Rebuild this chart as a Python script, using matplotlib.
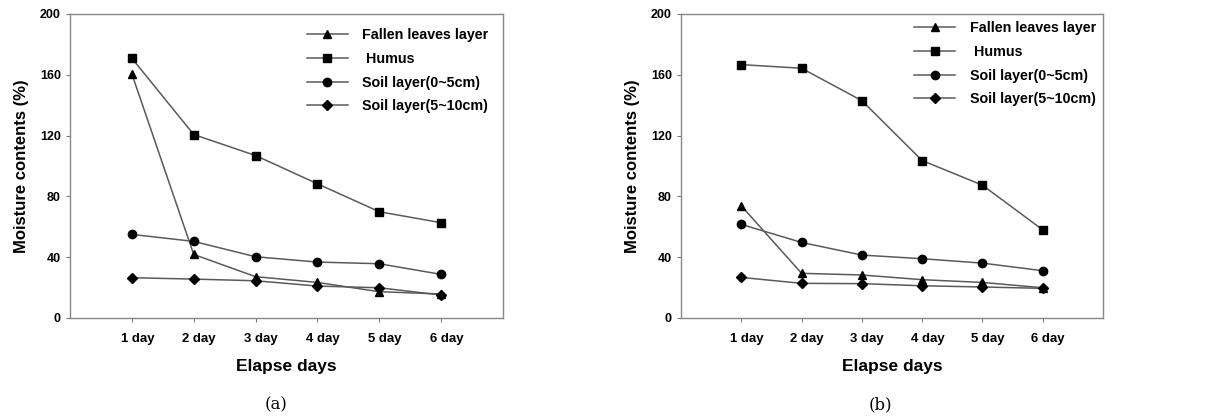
import matplotlib.pyplot as plt
import numpy as np

days = ['1 day', '2 day', '3 day', '4 day', '5 day', '6 day']
series_names = ['Fallen leaves layer', ' Humus', 'Soil layer(0~5cm)', 'Soil layer(5~10cm)']
markers = ['^', 's', 'o', 'D']

# panel (a)
fallen_a = [160.6, 41.8, 27.2, 23.4, 17.3, 15.8]
humus_a = [170.9, 120.7, 106.9, 88.3, 69.9, 62.7]
soil05_a = [55.0, 50.4, 40.3, 36.8, 35.7, 28.7]
soil510_a = [26.5, 25.6, 24.5, 21.0, 19.9, 15.1]

# panel (b)
fallen_b = [73.8, 29.4, 28.3, 25.2, 23.4, 19.9]
humus_b = [166.7, 164.3, 143.0, 103.6, 87.4, 58.0]
soil05_b = [61.6, 49.7, 41.4, 39.0, 36.1, 31.1]
soil510_b = [26.7, 22.8, 22.6, 21.2, 20.4, 19.5]

yticks = [0, 40, 80, 120, 160, 200]

plt.rcParams['font.family'] = ['Liberation Sans', 'DejaVu Sans']

fig = plt.figure(figsize=(12.08, 4.16), dpi=100)
ax1 = fig.add_axes([70 / 1208, 1 - 318 / 416, 433 / 1208, 304 / 416])
ax2 = fig.add_axes([681 / 1208, 1 - 318 / 416, 422 / 1208, 304 / 416])

panels = [
    (ax1, [fallen_a, humus_a, soil05_a, soil510_a], '(a)', 276, 0.6),
    (ax2, [fallen_b, humus_b, soil05_b, soil510_b], '(b)', 880, 0.1),
]

x = np.arange(1, len(days) + 1)
for ax, data, caption, cx, pad in panels:
    for vals, name, m in zip(data, series_names, markers):
        ms = 5.5 if m == 'D' else 6
        ax.plot(x, vals, color='#5a5a5a', lw=1.1, marker=m, ms=ms,
                mfc='black', mec='black', label=name)
    ax.set_xlim(0, 7)
    ax.set_ylim(0, 200)
    ax.set_yticks(yticks)
    ax.set_xticks(x)
    ax.set_xticklabels([' ' * 3 + d for d in days], fontsize=9.5, fontweight='bold')
    ax.tick_params(axis='y', labelsize=9, length=3, color='#777777')
    ax.tick_params(axis='x', length=3, color='#777777', pad=8)
    for lbl in ax.get_yticklabels():
        lbl.set_fontweight('bold')
    for s in ax.spines.values():
        s.set_color('#888888')
        s.set_linewidth(1.0)
    ax.set_xlabel('Elapse days', fontsize=12.5, fontweight='bold', labelpad=10)
    ax.set_ylabel('Moisture contents (%)', fontsize=12, fontweight='bold', labelpad=8)
    leg = ax.legend(loc='upper right', frameon=False, fontsize=10.3, handlelength=2.9,
                    handletextpad=1.0, labelspacing=0.68, borderaxespad=pad)
    for t in leg.get_texts():
        t.set_fontweight('bold')
    fig.text(cx / 1208, 1 - 405 / 416, caption, ha='center', va='center',
             fontsize=12, family='DejaVu Serif')

fig.savefig('out.png', dpi=100)
